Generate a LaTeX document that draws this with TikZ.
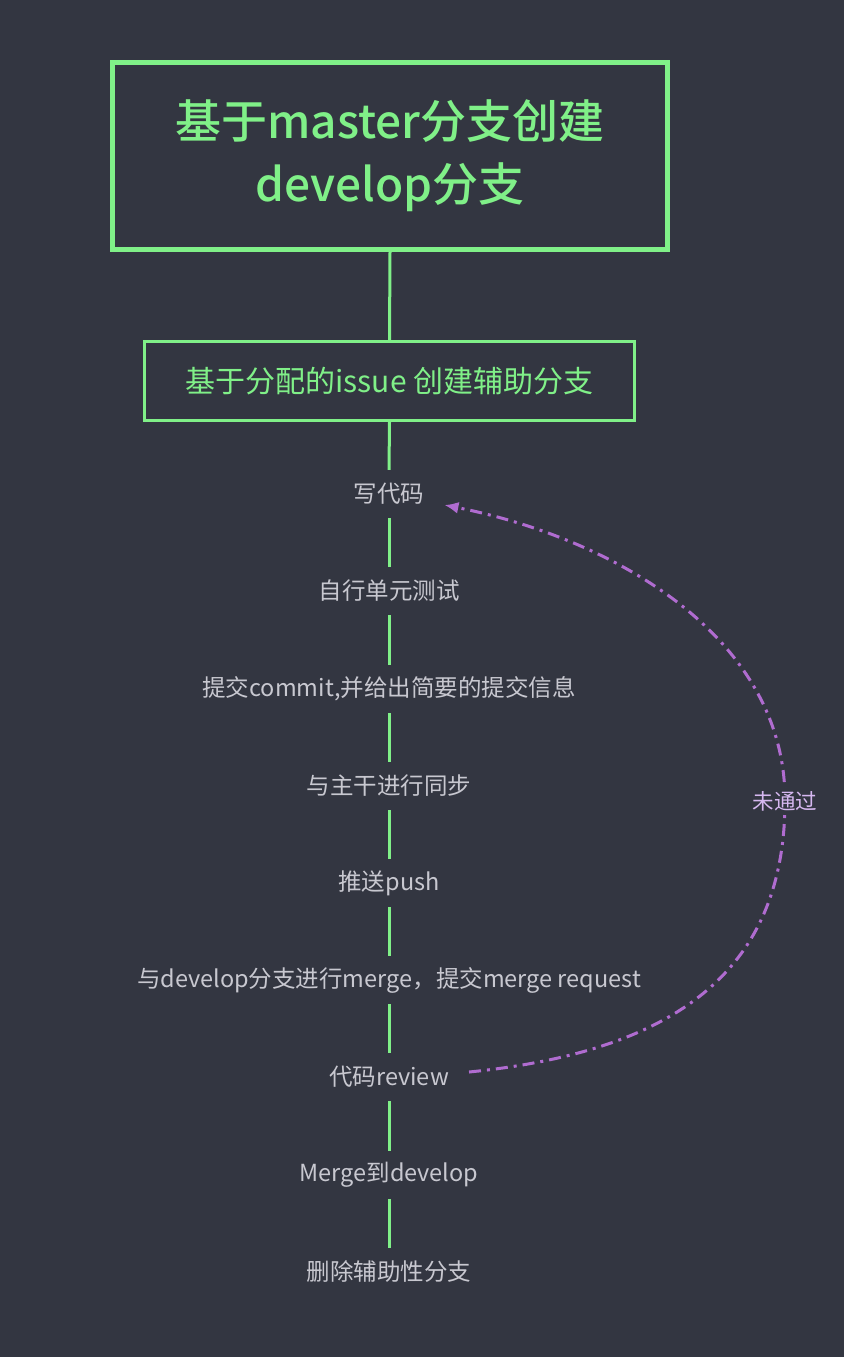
\documentclass[tikz,border=0pt]{standalone}
\usepackage{fontspec}
\setmainfont{Noto Sans CJK SC}
\newfontfamily\medfont{Noto Sans CJK SC Medium}
\usetikzlibrary{calc,arrows.meta}
\definecolor{bg}{RGB}{51,54,65}
\definecolor{gr}{RGB}{128,240,136}
\definecolor{tx}{RGB}{200,200,208}
\definecolor{pu}{RGB}{176,108,208}
\definecolor{pl}{RGB}{214,184,240}
\tikzset{
  bigbox/.style={draw=gr,line width=5pt,minimum width=555pt,minimum height=187pt,text=gr,align=center,font=\fontsize{46}{63}\medfont},
  midbox/.style={draw=gr,line width=3pt,minimum width=490pt,minimum height=79pt,text=gr,font=\fontsize{30}{34}\selectfont},
  item/.style={text=tx,minimum height=48pt,inner sep=0pt,font=\fontsize{23.5}{26}\selectfont},
  link/.style={draw=gr,line width=3pt},
  back/.style={draw=pu,line width=3pt,dash pattern=on 12pt off 6pt on 3pt off 6pt,-{Latex[length=14pt,width=12pt]}},
  lab/.style={text=pl,fill=bg,inner sep=3pt,font=\fontsize{21.5}{24}\selectfont}
}
\begin{document}
\begin{tikzpicture}[x=1pt,y=-1pt]
\fill[bg] (0,0) rectangle (844,1357);
\useasboundingbox (0,0) rectangle (844,1357);
\node[bigbox] (top) at (390,156) {基于master分支创建\\develop分支};
\node[midbox] (mid) at (389.5,381) {基于分配的issue 创建辅助分支};
\node[item] (a1) at (389,494) {写代码};
\node[item] (a2) at (389,591) {自行单元测试};
\node[item] (a3) at (389,689) {提交commit,并给出简要的提交信息};
\node[item] (a4) at (389,786) {与主干进行同步};
\node[item] (a5) at (389,883) {推送push};
\node[item] (a6) at (389,980) {与develop分支进行merge，提交merge request};
\node[item] (a7) at (389,1077) {代码review};
\node[item] (a8) at (389,1175) {Merge到develop};
\node[item] (a9) at (389,1272) {删除辅助性分支};
\draw[link] (top.south) -- (mid.north);
\draw[link] (mid.south) -- (a1.north);
\foreach \i/\j in {a1/a2,a2/a3,a3/a4,a4/a5,a5/a6,a6/a7,a7/a8,a8/a9}
  \draw[link] (\i.south) -- (\j.north);
\draw[back] ($(a7.east)+(20,-5)$) .. controls (690,1050) and (785,960) .. (785,800)
  .. controls (785,640) and (620,540) .. ($(a1.east)+(20,11)$);
\node[lab] (nl) at (785,801) {未通过};
\end{tikzpicture}
\end{document}
